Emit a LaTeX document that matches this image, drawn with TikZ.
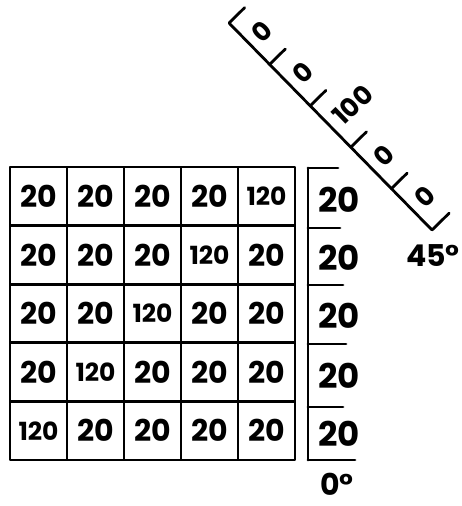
\documentclass[tikz,border=0pt]{standalone}
\usepackage{fontspec}
\setmainfont{Poppins}
\usetikzlibrary{calc}
\begin{document}
\begin{tikzpicture}[x=1pt,y=-1pt,line width=2.8pt,line cap=round,line join=round,
  cell/.style={draw,minimum width=57pt,minimum height=58.6pt,inner sep=0pt,
    font=\fontsize{30}{30}\selectfont\bfseries},
  big/.style={font=\fontsize{25}{25}\selectfont\bfseries},
  barlab/.style={inner sep=0pt,anchor=base,font=\fontsize{34}{34}\selectfont\bfseries},
  anglab/.style={inner sep=0pt,anchor=base,font=\fontsize{30}{30}\selectfont\bfseries},
  diaglab/.style={inner sep=0pt,anchor=west,rotate=44,
    font=\fontsize{26}{26}\selectfont\bfseries}]
\useasboundingbox (0,0) rectangle (461,506);
% grid
\foreach \r in {0,...,4}{
  \foreach \c in {0,...,4}{
    \pgfmathtruncatemacro{\s}{\r+\c}
    \ifnum\s=4
      \node[cell,big] (c\r\c) at ({38.5+57*\c},{196.3+58.6*\r}) {120};
    \else
      \node[cell] (c\r\c) at ({38.5+57*\c},{196.3+58.6*\r}) {20};
    \fi
  }
}
% vertical projection bar
\coordinate (v0) at (308,168);
\coordinate (v5) at (308,460);
\draw (v0) -- (v5);
\foreach \i/\y/\e in {0/168/338,1/228/340,2/285/343,3/344/346,4/407/343,5/460/355}{
  \coordinate (vt\i) at (308,\y);
  \coordinate (ve\i) at (\e,\y);
  \draw (vt\i) -- (ve\i);
}
\foreach \i/\y in {1/212,2/270,3/328,4/388,5/446}{
  \node[barlab] (vl\i) at (339,\y) {20};
}
\node[anglab] (zero) at (337,495) {0°};
% diagonal projection bar
\coordinate (P0) at (229,23);
\coordinate (P5) at (432,230);
\foreach \i in {1,...,4}{
  \coordinate (P\i) at ($(P0)!\i/5!(P5)$);
}
\draw (P0) -- (P5);
\foreach \i in {0,...,4}{
  \coordinate (T\i) at ($(P\i)!22pt!90:(P5)$);
  \draw (P\i) -- (T\i);
}
\coordinate (T5) at ($(P5)!24pt!-90:(P0)$);
\draw (P5) -- (T5);
\foreach \i/\j/\t in {0/1/0,1/2/0,2/3/100,3/4/0,4/5/0}{
  \coordinate (M\j) at ($(P\i)!0.5!(P\j)$);
  \node[diaglab] (dl\j) at ($(M\j)!8pt!90:(P5)$) {\t};
}
\node[anglab] (fortyfive) at (433,266) {45°};
\end{tikzpicture}
\end{document}
